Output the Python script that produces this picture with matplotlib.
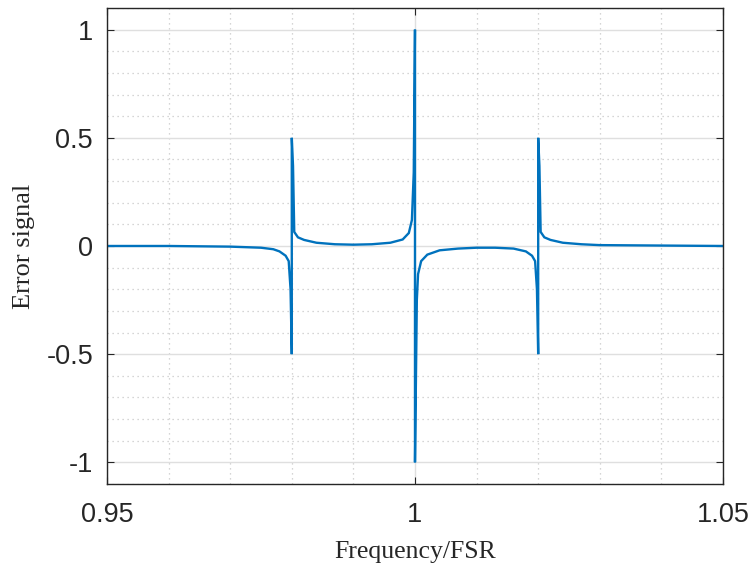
import matplotlib
matplotlib.use("Agg")
import matplotlib.pyplot as plt
from matplotlib.ticker import MultipleLocator

plt.rcParams['axes.unicode_minus'] = False

# Frequency/FSR values
freq = [0.95, 0.96, 0.97, 0.975, 0.977, 0.978, 0.979, 0.9795, 0.9798, 0.98,
        0.98, 0.9802, 0.9804, 0.981, 0.982, 0.984, 0.987, 0.99, 0.993, 0.996,
        0.998, 0.999, 0.9995, 0.9998, 1.0,
        1.0, 1.0003, 1.0005, 1.001, 1.002, 1.004, 1.007, 1.01, 1.013, 1.016,
        1.018, 1.019, 1.0195, 1.0198, 1.02,
        1.02, 1.0202, 1.0204, 1.021, 1.022, 1.024, 1.027, 1.03, 1.04, 1.05]
# Error signal values
err = [0.0, 0.0, -0.003, -0.008, -0.015, -0.025, -0.045, -0.07, -0.2, -0.5,
       0.5, 0.37, 0.065, 0.04, 0.028, 0.015, 0.008, 0.006, 0.008, 0.015,
       0.03, 0.06, 0.12, 0.34, 1.0,
       -1.0, -0.25, -0.13, -0.07, -0.04, -0.02, -0.012, -0.008, -0.008, -0.012,
       -0.025, -0.045, -0.07, -0.2, -0.5,
       0.5, 0.37, 0.065, 0.04, 0.028, 0.015, 0.008, 0.004, 0.002, 0.0]

xticks = [0.95, 1.0, 1.05]
xticklabels = ["0.95", "1", "1.05"]
yticks = [-1, -0.5, 0, 0.5, 1]
yticklabels = ["-1", "-0.5", "0", "0.5", "1"]

fig = plt.figure(figsize=(7.55, 5.66), dpi=100)
ax = fig.add_axes([0.1417, 0.1449, 0.8159, 0.8410])

ax.plot(freq, err, color="#0072BD", linewidth=1.7, solid_joinstyle="miter")

ax.set_xlim(0.95, 1.05)
ax.set_ylim(-1.1, 1.1)
ax.set_xticks(xticks)
ax.set_xticklabels(xticklabels)
ax.set_yticks(yticks)
ax.set_yticklabels(yticklabels)
ax.xaxis.set_minor_locator(MultipleLocator(0.01))
ax.yaxis.set_minor_locator(MultipleLocator(0.1))

ax.grid(True, which="major", color="#dfdfdf", linewidth=1.0, linestyle="-")
ax.grid(True, which="minor", color="#c8c8c8", linewidth=0.9, linestyle=(0, (1, 3)))
ax.set_axisbelow(True)

ax.tick_params(which="major", direction="in", length=5, width=0.8, color="#262626",
               top=True, right=True, labelsize=19.5, labelcolor="#262626")
ax.tick_params(axis="x", which="major", pad=13)
ax.tick_params(axis="y", which="major", pad=10)
ax.tick_params(which="minor", length=0, top=True, right=True)
for lab in ax.get_xticklabels() + ax.get_yticklabels():
    lab.set_fontfamily("Liberation Sans")

for s in ax.spines.values():
    s.set_color("#262626")
    s.set_linewidth(1.0)

ax.set_xlabel("Frequency/FSR", fontsize=18.5, family="Liberation Serif", color="#262626", labelpad=9)
ax.set_ylabel("Error signal", fontsize=19, family="Liberation Serif", color="#262626", labelpad=8)

fig.savefig("out.png", dpi=100)
